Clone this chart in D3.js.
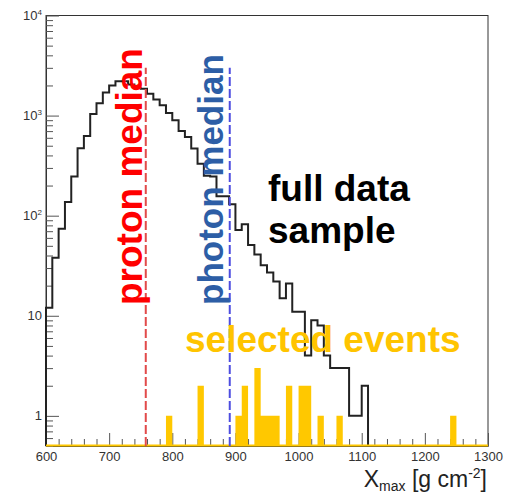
<!DOCTYPE html>
<html>
<head>
<meta charset="utf-8">
<script src="https://cdn.jsdelivr.net/npm/d3@7"></script>
<style>
  html, body { margin: 0; padding: 0; background: #ffffff; }
  svg { display: block; font-family: "Liberation Sans", Arial, Helvetica, sans-serif; }
</style>
</head>
<body>
<svg id="chart" width="506" height="497"></svg>
<script>
// Xmax histograms: 10 g/cm^2 bins
const binWidth = 10;
const fullBinStart = 600;
// full data sample, counts per bin from 600 to 1110
const fullCounts = [
  12, 38, 74, 137, 246, 473, 627, 1040, 1330, 1700,
  2000, 2200, 2200, 2050, 1900, 1850, 1650, 1450, 1270, 1060,
  900, 700, 610, 470, 330, 250, 246, 156, 156, 130,
  72, 82, 51, 41, 32, 27, 22, 15, 21, 11,
  11, 4, 9, 8, 4, 3, 3, 3, 1, 1,
  2
];
// selected events: lower bin edges and counts
const selectedBins   = [790, 840, 900, 910, 930, 940, 950, 960, 980, 1000, 1010, 1030, 1060, 1240];
const selectedCounts = [1,   2,   1,   2,   3,   1,   1,   1,   2,   2,    2,    1,    1,    1];

// medians
const medianNames  = ["proton median", "photon median"];
const medianValues = [758, 891];
const medianTop = 3000;

// axes
const xDomain = [600, 1300];
const yDomain = [0.5, 10000];
const xTickValues = [600, 700, 800, 900, 1000, 1100, 1200, 1300];
const xTickLabels = ["600", "700", "800", "900", "1000", "1100", "1200", "1300"];
const yTickValues = [1, 10, 100, 1000, 10000];
const yTickBase   = ["1", "10", "10", "10", "10"];
const yTickExp    = ["", "", "2", "3", "4"];

const svg = d3.select("#chart");
const plotLeft = 46, plotRight = 488, plotTop = 15.5, plotBottom = 446;

const x = d3.scaleLinear().domain(xDomain).range([plotLeft, plotRight]);
const y = d3.scaleLog().domain(yDomain).range([plotBottom, plotTop]);
const floorV = yDomain[0];

// frame
svg.append("rect")
  .attr("x", plotLeft).attr("y", plotTop)
  .attr("width", plotRight - plotLeft).attr("height", plotBottom - plotTop)
  .attr("fill", "none").attr("stroke", "#333").attr("stroke-width", 1);

// x axis ticks (drawn upward from the bottom)
const xMinor = d3.range(xDomain[0], xDomain[1] + 1, 20).filter(v => v % 100 !== 0);
const xAxisMajor = d3.axisBottom(x).tickValues(xTickValues)
  .tickSizeInner(-13).tickSizeOuter(0).tickPadding(6)
  .tickFormat((d, i) => xTickLabels[i]);
const gx = svg.append("g").attr("transform", `translate(0,${plotBottom})`).call(xAxisMajor);
gx.select(".domain").attr("stroke", "#333");
gx.selectAll(".tick line").attr("stroke", "#555");
gx.selectAll(".tick text")
  .attr("font-family", "Liberation Sans, Arial, sans-serif")
  .attr("font-size", 13).attr("fill", "#333");
const gxm = svg.append("g").attr("transform", `translate(0,${plotBottom})`)
  .call(d3.axisBottom(x).tickValues(xMinor).tickSizeInner(-7).tickSizeOuter(0).tickFormat(""));
gxm.select(".domain").remove();
gxm.selectAll(".tick line").attr("stroke", "#555");

// y axis ticks (drawn rightward from the left)
const yMinor = [0.5];
for (let e = -1; e < 4; e++) {
  for (let m = 2; m <= 9; m++) {
    const v = m * Math.pow(10, e);
    if (v >= yDomain[0] && v <= yDomain[1]) yMinor.push(v);
  }
}
const gy = svg.append("g").attr("transform", `translate(${plotLeft},0)`)
  .call(d3.axisLeft(y).tickValues(yTickValues).tickSizeInner(-13).tickSizeOuter(0).tickFormat(""));
gy.select(".domain").attr("stroke", "#333");
gy.selectAll(".tick line").attr("stroke", "#555");
const gym = svg.append("g").attr("transform", `translate(${plotLeft},0)`)
  .call(d3.axisLeft(y).tickValues(yMinor).tickSizeInner(-7).tickSizeOuter(0).tickFormat(""));
gym.select(".domain").remove();
gym.selectAll(".tick line").attr("stroke", "#555");

// y tick labels with superscript exponents
yTickValues.forEach((v, i) => {
  const t = svg.append("text")
    .attr("x", 42).attr("y", y(v)).attr("dy", "0.35em")
    .attr("text-anchor", "end")
    .attr("font-size", 13).attr("fill", "#333");
  t.append("tspan").text(yTickBase[i]);
  if (yTickExp[i]) {
    t.append("tspan").attr("font-size", 8).attr("dy", "-0.6em").text(yTickExp[i]);
  }
});

// x axis title
const title = svg.append("text")
  .attr("x", 487).attr("y", 487)
  .attr("text-anchor", "end").attr("font-size", 23).attr("fill", "#222");
title.append("tspan").text("X");
title.append("tspan").attr("font-size", 14).attr("dy", 4).text("max");
title.append("tspan").attr("dy", -4).text(" [g cm");
title.append("tspan").attr("font-size", 14).attr("dy", -9).text("-2");
title.append("tspan").attr("dy", 9).text("]");

// full data sample: step outline
const fullPts = [[fullBinStart, floorV]];
fullCounts.forEach((c, i) => fullPts.push([fullBinStart + i * binWidth, Math.max(c, floorV)]));
const fullEnd = fullBinStart + fullCounts.length * binWidth;
fullPts.push([fullEnd, fullCounts[fullCounts.length - 1]]);
fullPts.push([fullEnd, floorV]);
const stepLine = d3.line().x(d => x(d[0])).y(d => y(d[1])).curve(d3.curveStepAfter);
svg.append("path")
  .attr("d", stepLine(fullPts))
  .attr("fill", "none").attr("stroke", "#222").attr("stroke-width", 2)
  .attr("stroke-linejoin", "miter");

// selected events: filled histogram over the full x range
const selMap = new Map(selectedBins.map((b, i) => [b, selectedCounts[i]]));
const selPts = [];
for (let b = xDomain[0]; b < xDomain[1]; b += binWidth) {
  selPts.push([b, Math.max(selMap.get(b) || 0, floorV)]);
}
selPts.push([xDomain[1], floorV]);
const selArea = d3.area().x(d => x(d[0])).y0(y(floorV)).y1(d => y(d[1])).curve(d3.curveStepAfter);
svg.append("path").attr("d", selArea(selPts)).attr("fill", "#ffc800").attr("stroke", "none");
svg.append("line")
  .attr("x1", x(xDomain[0])).attr("x2", x(xDomain[1]))
  .attr("y1", y(floorV) - 0.5).attr("y2", y(floorV) - 0.5)
  .attr("stroke", "#ffc800").attr("stroke-width", 2);

// median markers
const medianColors = ["#e24a4a", "#4d4de0"];
medianValues.forEach((m, i) => {
  svg.append("line")
    .attr("x1", x(m)).attr("x2", x(m))
    .attr("y1", y(floorV)).attr("y2", y(medianTop))
    .attr("stroke", medianColors[i]).attr("stroke-width", 2)
    .attr("stroke-dasharray", "9,3");
});

// annotations
const labelFont = 37;
svg.append("text")
  .attr("transform", "translate(142,305) rotate(-90)")
  .attr("font-size", labelFont).attr("font-weight", "bold").attr("fill", "#ff0000")
  .text(medianNames[0]);
svg.append("text")
  .attr("transform", "translate(223,305) rotate(-90)")
  .attr("font-size", 35).attr("font-weight", "bold").attr("fill", "#2d5ea6")
  .text(medianNames[1]);
svg.append("text").attr("x", 268).attr("y", 201)
  .attr("font-size", labelFont).attr("font-weight", "bold").attr("fill", "#000")
  .text("full data");
svg.append("text").attr("x", 268).attr("y", 243)
  .attr("font-size", labelFont).attr("font-weight", "bold").attr("fill", "#000")
  .text("sample");
svg.append("text").attr("x", 185).attr("y", 352)
  .attr("font-size", labelFont).attr("font-weight", "bold").attr("fill", "#ffc400")
  .text("selected events");
</script>
</body>
</html>
